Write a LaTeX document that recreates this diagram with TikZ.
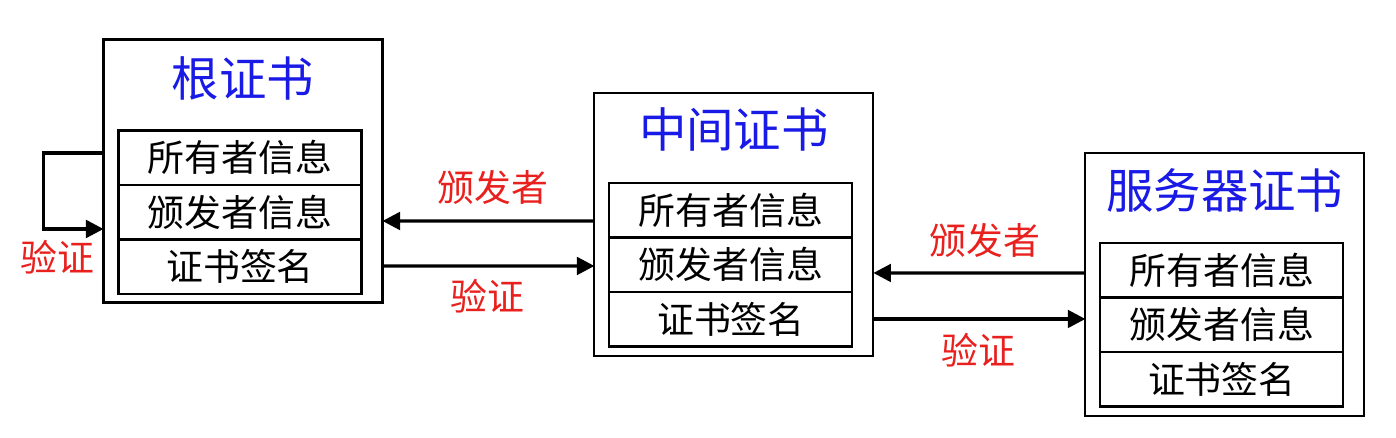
\documentclass[tikz,border=0pt]{standalone}
\usepackage{fontspec}
\setmainfont{Noto Sans CJK SC}
\usetikzlibrary{positioning,arrows.meta}
\definecolor{certblue}{HTML}{1A1AE6}
\definecolor{certred}{HTML}{E8201E}

\begin{document}
\begin{tikzpicture}[
    x=0.02cm, y=-0.02cm,
    cert/.style={draw, line width=1.2pt, fill=white, minimum width=5.58cm, minimum height=5.26cm, inner sep=0pt, outer sep=0pt},
    row/.style={draw, line width=1.2pt, minimum width=4.86cm, minimum height=1.09cm, inner sep=0pt, outer sep=0pt, font=\fontsize{21}{24}\selectfont},
    title/.style={text=certblue, inner sep=0pt, font=\fontsize{27}{30}\selectfont},
    lbl/.style={text=certred, inner sep=0pt, font=\fontsize{21}{24}\selectfont},
    arrow/.style={-{Triangle[length=10pt,width=10pt]}, line width=1.9pt}
  ]
    \useasboundingbox (0,0) rectangle (1396,438);

    % the three certificates
    \node[cert] (root) at (243,171) {};
    \node[cert, right=4.24cm of root, yshift=-1.07cm] (mid) {};
    \node[cert, right=4.24cm of mid, yshift=-1.2cm] (server) {};

    \node[title] (roottitle) at ([yshift=-0.78cm]root.north) {根证书};
    \node[title] (midtitle) at ([yshift=-0.72cm]mid.north) {中间证书};
    \node[title] (servertitle) at ([yshift=-0.74cm]server.north) {服务器证书};

    \node[row, below right=1.82cm and 0.3cm of root.north west] (rootowner) {所有者信息};
    \node[row, below=0pt of rootowner] (rootissuer) {颁发者信息};
    \node[row, below=0pt of rootissuer] (rootsig) {证书签名};

    \node[row, below right=1.8cm and 0.3cm of mid.north west] (midowner) {所有者信息};
    \node[row, below=0pt of midowner] (midissuer) {颁发者信息};
    \node[row, below=0pt of midissuer] (midsig) {证书签名};

    \node[row, below right=1.8cm and 0.3cm of server.north west] (serverowner) {所有者信息};
    \node[row, below=0pt of serverowner] (serverissuer) {颁发者信息};
    \node[row, below=0pt of serverissuer] (serversig) {证书签名};

    % links
    \draw[arrow] ([yshift=0.36cm]root.west) -- ++(-1.2cm,0) |- ([yshift=-1.16cm]root.west);
    \draw[arrow] ([yshift=0.07cm]mid.west) -- ([yshift=-1cm]root.east);
    \draw[arrow] ([yshift=-1.9cm]root.east) -- ([yshift=-0.83cm]mid.west);
    \draw[arrow] ([yshift=0.23cm]server.west) -- ([yshift=-0.97cm]mid.east);
    \draw[arrow] ([yshift=-1.89cm]mid.east) -- ([yshift=-0.69cm]server.west);

    \node[lbl] (selfcheck) at (57,257) {验证};
    \node[lbl] (rootissuerlbl) at (493,187) {颁发者};
    \node[lbl] (rootcheck) at (487,296) {验证};
    \node[lbl] (midissuerlbl) at (985,240) {颁发者};
    \node[lbl] (midcheck) at (978,350) {验证};

  \end{tikzpicture}
\end{document}
